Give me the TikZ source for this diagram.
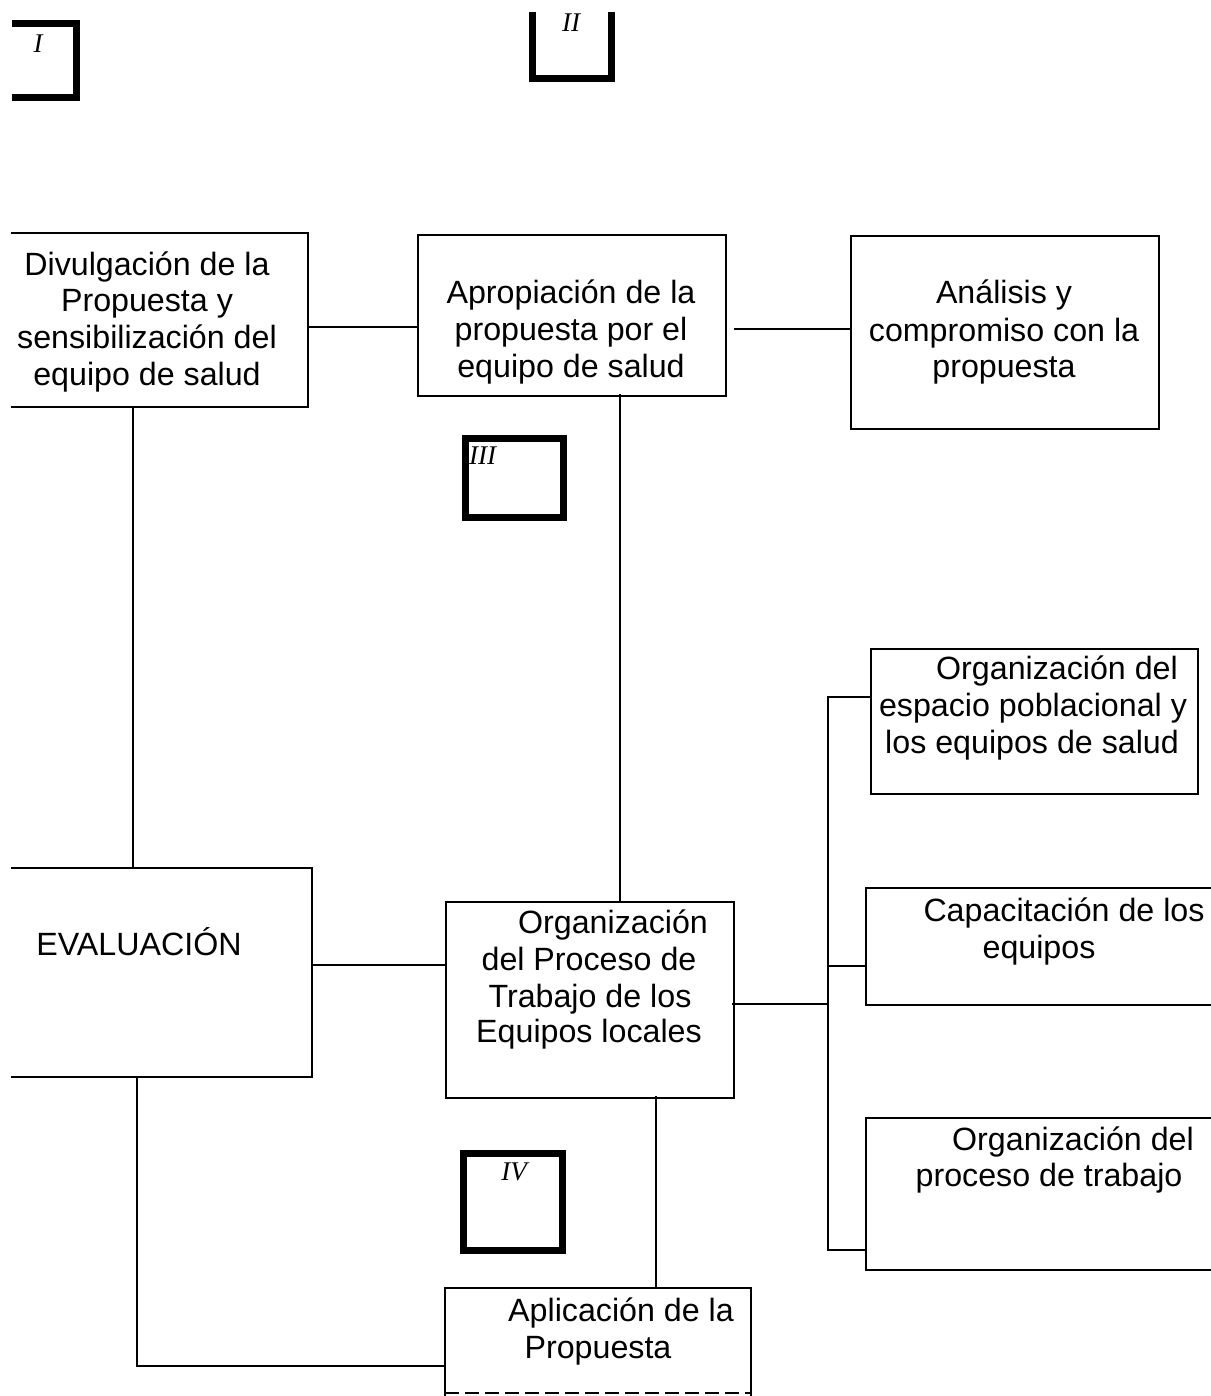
\documentclass[tikz,border=0pt]{standalone}
\usepackage{fontspec}
\setmainfont{Liberation Sans}
\newfontfamily\romfont{Liberation Serif}
\begin{document}
\begin{tikzpicture}[x=1pt,y=-1pt,
  ln/.style={line width=1.8pt,line cap=rect},
  thk/.style={line width=7pt},
  box/.style={draw,line width=1.8pt,inner sep=0pt,anchor=north west},
  txt/.style={font=\fontsize{32.2}{36}\selectfont,inner sep=0pt,anchor=base},
  rom/.style={font=\romfont\itshape\fontsize{27}{29}\selectfont,inner sep=0pt}]
\useasboundingbox (0,0) rectangle (1210,1396);
% Roman numeral brackets
\draw[thk] (12,24) -- (76,24) -- (76,98) -- (12,98);
\node[rom] (rI) at (38,44) {I};
\draw[thk] (532,12) -- (532,79) -- (611,79) -- (611,12);
\node[rom] (rII) at (571,23) {II};
\draw[thk] (465,438) rectangle (563,517);
\node[rom,anchor=north west] (rIII) at (469,447) {III};
\draw[thk] (463,1153) rectangle (562,1250);
\node[rom] (rIV) at (514,1172) {IV};
% Boxes
\draw[ln] (12,233) -- (308,233) -- (308,407) -- (12,407);
\coordinate (divR) at (308,327);
\coordinate (divB) at (133,407);
\node[box,minimum width=308,minimum height=161] (aprop) at (417,234) {};
\node[box,minimum width=308,minimum height=193] (anal) at (850,235) {};
\draw[ln] (12,868) -- (312,868) -- (312,1077) -- (12,1077);
\coordinate (evT) at (133,868);
\coordinate (evR) at (312,965);
\coordinate (evB) at (137,1077);
\node[box,minimum width=288,minimum height=196] (org) at (445,901) {};
\node[box,minimum width=327,minimum height=145] (esp) at (870,648) {};
\draw[ln] (1210,888) -- (866,888) -- (866,1005) -- (1210,1005);
\coordinate (capL) at (866,966);
\draw[ln] (1210,1118) -- (866,1118) -- (866,1270) -- (1210,1270);
\coordinate (proL) at (866,1250);
\draw[ln] (445,1400) -- (445,1288) -- (751,1288) -- (751,1400);
\draw[line width=1.2pt,dash pattern=on 14pt off 6pt] (445,1393) -- (751,1393);
\coordinate (aplT) at (656,1288);
\coordinate (aplL) at (445,1366);
% Texts
\node[txt] (t1) at (147,276) {Divulgación de la};
\node[txt] (t2) at (147,312) {Propuesta y};
\node[txt] (t3) at (147,348) {sensibilización del};
\node[txt] (t4) at (147,385) {equipo de salud};
\node[txt] (t5) at (571,304) {Apropiación de la};
\node[txt] (t6) at (571,340) {propuesta por el};
\node[txt] (t7) at (571,377) {equipo de salud};
\node[txt] (t8) at (1004,304) {Análisis y};
\node[txt] (t9) at (1004,341) {compromiso con la};
\node[txt] (t10) at (1004,377) {propuesta};
\node[txt] (t11) at (1057,679) {Organización del};
\node[txt] (t12) at (1033,716) {espacio poblacional y};
\node[txt] (t13) at (1032,753) {los equipos de salud};
\node[txt] (t14) at (1064,921) {Capacitación de los};
\node[txt] (t15) at (1039,958) {equipos};
\node[txt] (t16) at (1073,1150) {Organización del};
\node[txt] (t17) at (1049,1186) {proceso de trabajo};
\node[txt] (t18) at (139,955) {EVALUACIÓN};
\node[txt] (t19) at (613,933) {Organización};
\node[txt] (t20) at (589,970) {del Proceso de};
\node[txt] (t21) at (590,1007) {Trabajo de los};
\node[txt] (t22) at (589,1042) {Equipos locales};
\node[txt] (t23) at (621,1321) {Aplicación de la};
\node[txt] (t24) at (598,1358) {Propuesta};
% Connectors
\draw[ln] (divR) -- (divR -| aprop.west);
\coordinate (apR) at (735,329);
\draw[ln] (apR) -- (apR -| anal.west);
\draw[ln] (divB) -- (evT);
\coordinate (apB) at (620,395);
\draw[ln] (apB) -- (apB |- org.north);
\draw[ln] (evR) -- (evR -| org.west);
\coordinate (orgR) at (733,1004);
\coordinate (br) at (828,1004);
\draw[ln] (orgR) -- (br);
\coordinate (brT) at (828,697);
\coordinate (brB) at (828,1250);
\draw[ln] (esp.west |- brT) -- (brT) -- (brB) -- (proL);
\draw[ln] (828,966) -- (capL);
\coordinate (orgB) at (656,1097);
\draw[ln] (orgB) -- (aplT);
\draw[ln] (evB) -- (evB |- aplL) -- (aplL);
\end{tikzpicture}
\end{document}
